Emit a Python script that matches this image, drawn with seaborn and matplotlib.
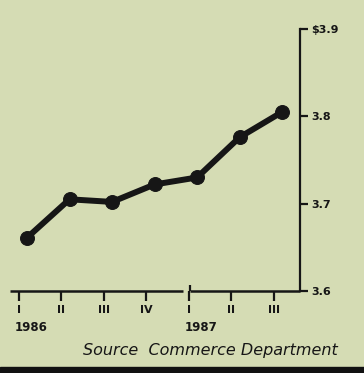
import matplotlib
matplotlib.use("Agg")
import matplotlib.pyplot as plt
import matplotlib.transforms as mtransforms
import seaborn as sns
import numpy as np
import pandas as pd

# data (billions of dollars, quarterly)
quarters = ["I", "II", "III", "IV", "I", "II", "III"]
years = ["1986", "1987"]
values = [3.661, 3.705, 3.702, 3.722, 3.730, 3.776, 3.805]
y_ticks = [3.6, 3.7, 3.8, 3.9]
y_labels = ["3.6", "3.7", "3.8", "$3.9"]
source = "Source  Commerce Department"

bg = "#d5dcb4"
ink = "#161616"

df = pd.DataFrame({"q": np.arange(len(values)), "value": values})

sns.set_style("white", {"axes.facecolor": bg, "figure.facecolor": bg})
plt.rcParams["font.family"] = ["DejaVu Sans"]

fig = plt.figure(figsize=(3.64, 3.73), dpi=100)
ax = fig.add_axes([10 / 364, 82 / 373, 290 / 364, 262 / 373])

sns.lineplot(data=df, x="q", y="value", ax=ax, color=ink, linewidth=4.3,
             marker="o", markersize=10, markeredgecolor=ink, markerfacecolor=ink)

ax.set_xlim(-0.4, 6.42)
ax.set_ylim(3.6, 3.9)
ax.set_xlabel("")
ax.set_ylabel("")

for s in ["top", "left", "bottom"]:
    ax.spines[s].set_visible(False)
ax.spines["right"].set_color(ink)
ax.spines["right"].set_linewidth(1.6)

# right-hand value axis
ax.yaxis.tick_right()
ax.set_yticks(y_ticks)
ax.set_yticklabels(y_labels, fontsize=8, fontweight="bold", color=ink)
ax.tick_params(axis="y", which="major", left=False, right=True, labelright=True,
               direction="out", length=6, width=1.6, color=ink, pad=2)

# quarter ticks along the broken baseline
tick_x = np.arange(len(quarters)) - 0.2
ax.set_xticks(tick_x)
ax.set_xticklabels(quarters, fontsize=8, fontweight="bold", color=ink)
ax.tick_params(axis="x", which="major", bottom=True, direction="out",
               length=7, width=1.6, color=ink, pad=3)

ax.hlines(3.6, -0.4, 3.67, color=ink, linewidth=1.8, clip_on=False)
ax.hlines(3.6, 3.84, 6.42, color=ink, linewidth=1.8, clip_on=False)
ax.vlines(3.84, 3.6, 3.607, color=ink, linewidth=1.6, clip_on=False)

trans = mtransforms.blended_transform_factory(ax.transData, ax.transAxes)
ax.text(tick_x[0] - 0.1, -0.14, years[0], transform=trans, fontsize=8.5,
        fontweight="bold", color=ink, ha="left", va="center")
ax.text(tick_x[4] - 0.1, -0.14, years[1], transform=trans, fontsize=8.5,
        fontweight="bold", color=ink, ha="left", va="center")

fig.text(83 / 364, 1 - 350 / 373, source, fontsize=11.5, style="italic",
         color=ink, ha="left", va="center")

# dark rule at the foot of the clipping
fig.patches.append(plt.Rectangle((0, 0), 1, 6 / 373, transform=fig.transFigure,
                                 color="#111111", zorder=5))

fig.savefig("out.png", dpi=100, facecolor=bg)
